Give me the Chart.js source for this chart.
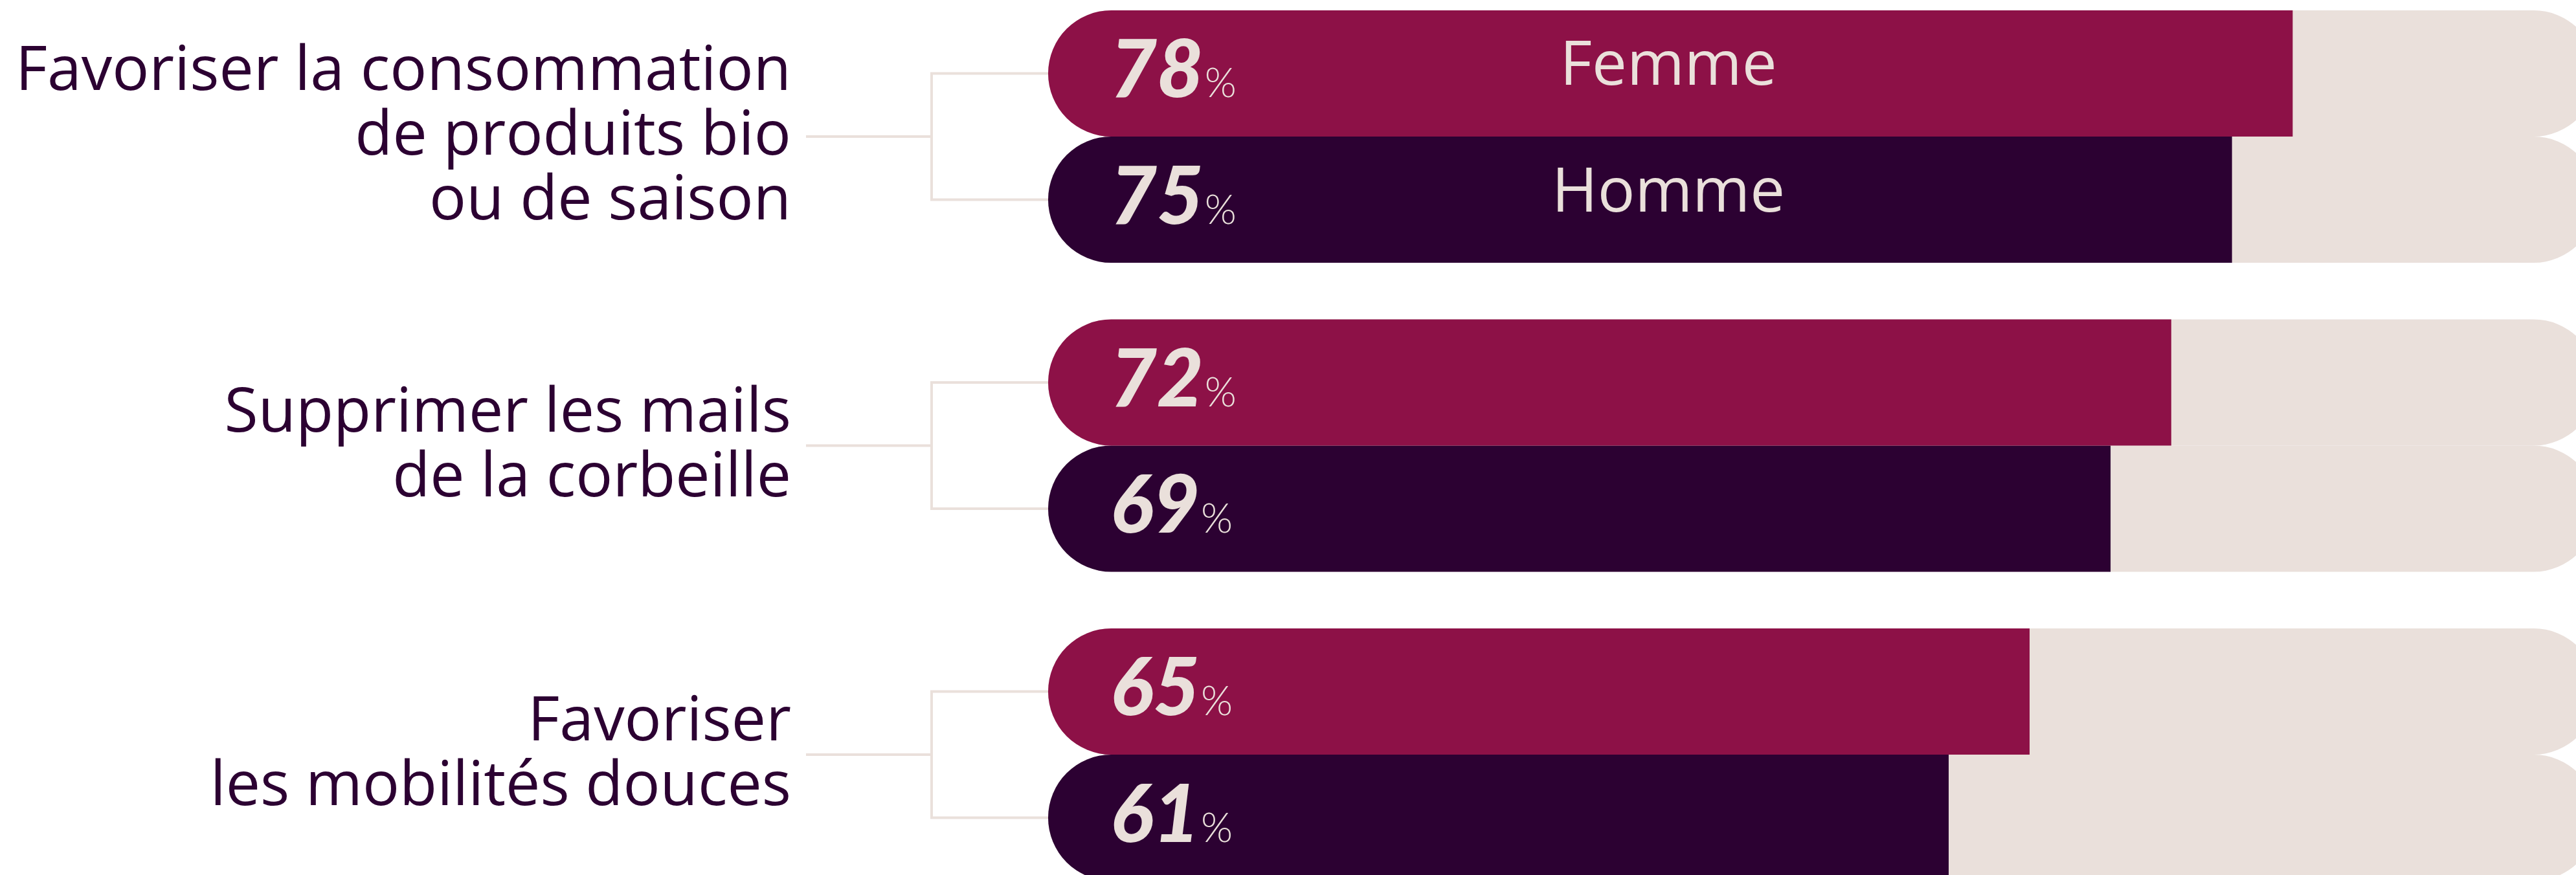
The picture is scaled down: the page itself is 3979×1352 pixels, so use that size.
<!DOCTYPE html>
<html>
<head>
<meta charset="utf-8">
<script src="https://cdn.jsdelivr.net/npm/chart.js"></script>
<style>
  html, body { margin: 0; padding: 0; background: #ffffff; }
  #wrap { width: 3979px; height: 1352px; }
</style>
</head>
<body>
<div id="wrap"><canvas id="chart"></canvas></div>
<script>
// Data
const categories = [
    ['Favoriser la consommation', 'de produits bio', 'ou de saison'],
    ['Supprimer les mails', 'de la corbeille'],
    ['Favoriser', 'les mobilités douces']
];
const seriesNames = ['Femme', 'Homme'];
const femmeValues = [78, 72, 65];
const hommeValues = [75, 69, 61];

const X_MIN = 16.5;
const X_MAX = 92;

const FEMME_COLOR = '#8d1147';
const HOMME_COLOR = '#2c0132';
const TRACK_COLOR = '#eae0db';
const LABEL_COLOR = '#2c0132';

function pillPath(ctx, left, top, right, h) {
    const r = h / 2;
    ctx.beginPath();
    ctx.moveTo(left + r, top);
    ctx.lineTo(right - r, top);
    ctx.arc(right - r, top + r, r, -Math.PI / 2, Math.PI / 2);
    ctx.lineTo(left + r, top + h);
    ctx.arc(left + r, top + r, r, Math.PI / 2, Math.PI * 1.5);
    ctx.closePath();
}

// tracks, connectors and category labels
const decorPlugin = {
    id: 'decor',
    beforeDatasetsDraw(chart) {
        const ctx = chart.ctx;
        const area = chart.chartArea;
        const yScale = chart.scales.y;
        const f = chart.getDatasetMeta(0).data;
        const h = chart.getDatasetMeta(1).data;
        ctx.save();

        // light background tracks
        ctx.fillStyle = TRACK_COLOR;
        [f, h].forEach(bars => {
            bars.forEach(bar => {
                pillPath(ctx, bar.base, bar.y - bar.height / 2, area.right + 32, bar.height);
                ctx.fill();
            });
        });

        // bracket connectors
        ctx.strokeStyle = TRACK_COLOR;
        ctx.lineWidth = 4;
        categories.forEach((lines, i) => {
            const cy = yScale.getPixelForValue(i);
            const vx = area.left - 180;
            ctx.beginPath();
            ctx.moveTo(area.left - 374, cy);
            ctx.lineTo(vx, cy);
            ctx.moveTo(vx, f[i].y - 2);
            ctx.lineTo(vx, h[i].y + 2);
            ctx.moveTo(vx - 2, f[i].y);
            ctx.lineTo(f[i].base + 10, f[i].y);
            ctx.moveTo(vx - 2, h[i].y);
            ctx.lineTo(h[i].base + 10, h[i].y);
            ctx.stroke();

            // category label, right aligned
            ctx.fillStyle = LABEL_COLOR;
            ctx.font = '400 95px "Open Sans"';
            ctx.textAlign = 'right';
            ctx.textBaseline = 'alphabetic';
            const lh = 100;
            lines.forEach((line, j) => {
                const y = cy + 28 + (j - (lines.length - 1) / 2) * lh;
                ctx.fillText(line, area.left - 397, y);
            });
        });
        ctx.restore();
    },
    afterDatasetsDraw(chart) {
        const ctx = chart.ctx;
        ctx.save();
        ctx.fillStyle = TRACK_COLOR;
        ctx.textBaseline = 'alphabetic';
        chart.data.datasets.forEach((ds, di) => {
            chart.getDatasetMeta(di).data.forEach((bar, i) => {
                const x = bar.base + 96;
                const y = bar.y + 37;
                ctx.textAlign = 'left';
                ctx.font = 'italic 900 124px Lato';
                const txt = String(ds.data[i]);
                ctx.fillText(txt, x, y);
                const w = ctx.measureText(txt).width;
                ctx.font = '300 63px Lato';
                ctx.fillText('%', x + w + 2, y);
            });
            // series name inside the first pair of bars
            const first = chart.getDatasetMeta(di).data[0];
            ctx.textAlign = 'center';
            ctx.font = '400 96px "Open Sans"';
            ctx.fillText(ds.label, chart.chartArea.left + 958, first.y + 18);
        });
        ctx.restore();
    }
};

const ctx = document.getElementById('chart').getContext('2d');
new Chart(ctx, {
    type: 'bar',
    data: {
        labels: categories.map(l => l.join(' ')),
        datasets: [{
            label: seriesNames[0],
            data: femmeValues,
            base: X_MIN,
            backgroundColor: FEMME_COLOR,
            borderSkipped: false,
            borderRadius: { topLeft: 100, bottomLeft: 100, topRight: 0, bottomRight: 0 },
            clip: false
        }, {
            label: seriesNames[1],
            data: hommeValues,
            base: X_MIN,
            backgroundColor: HOMME_COLOR,
            borderSkipped: false,
            borderRadius: { topLeft: 100, bottomLeft: 100, topRight: 0, bottomRight: 0 },
            clip: false
        }]
    },
    options: {
        indexAxis: 'y',
        responsive: true,
        maintainAspectRatio: false,
        devicePixelRatio: 1,
        animation: false,
        categoryPercentage: 0.8168,
        barPercentage: 1,
        layout: {
            padding: { left: 1619, right: 0, top: 211, bottom: 186 }
        },
        plugins: {
            legend: { display: false },
            tooltip: { enabled: false },
            title: { display: false }
        },
        scales: {
            x: {
                type: 'linear',
                min: X_MIN,
                max: X_MAX,
                display: false
            },
            y: {
                type: 'category',
                offset: false,
                display: false
            }
        }
    },
    plugins: [decorPlugin]
});
</script>
</body>
</html>
